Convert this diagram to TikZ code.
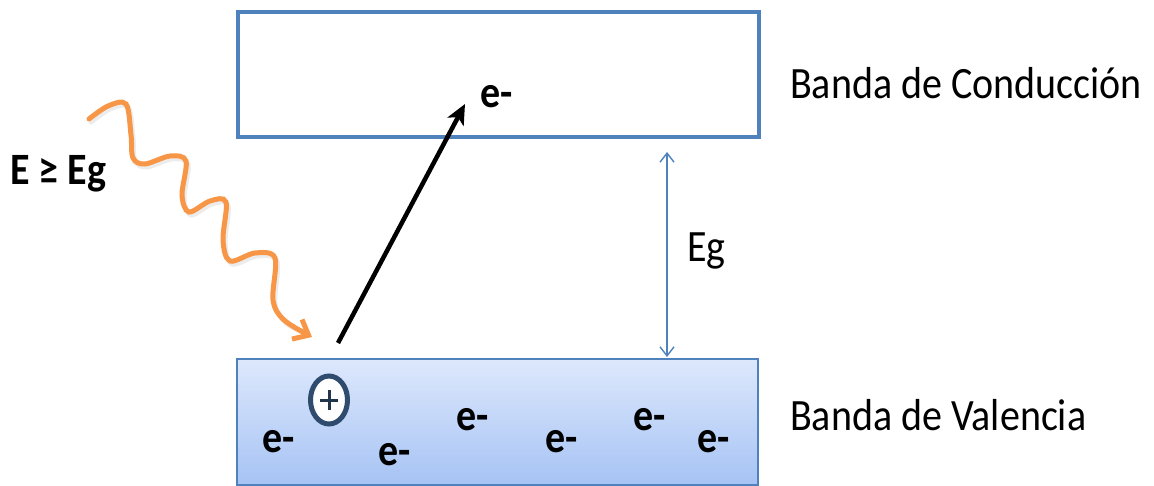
\documentclass[tikz,border=0pt]{standalone}
\usepackage{fontspec}
\setmainfont{Carlito}
\usetikzlibrary{arrows.meta,shapes.geometric}
\definecolor{bandblue}{HTML}{4F81BD}
\definecolor{photon}{HTML}{F79646}
\definecolor{holeblue}{HTML}{2F4B6E}
\definecolor{vbtop}{HTML}{DDE8FC}
\definecolor{vbbot}{HTML}{A6C3F4}
\newcommand\vst[1]{\scalebox{1}[1.12]{#1}}
\tikzset{
  lbl/.style={anchor=base west,inner sep=0pt,font=\fontsize{40}{48}\selectfont},
  elec/.style={anchor=base west,inner sep=0pt,font=\fontsize{40}{48}\selectfont\bfseries},
}
\begin{document}
\begin{tikzpicture}[x=1pt,y=-1pt]
\useasboundingbox (0,0) rectangle (1154,486);
% bands
\node[draw=bandblue,line width=4pt,minimum width=521pt,minimum height=125pt,inner sep=0pt,anchor=north west] (cb) at (236,10) {};
\node[draw=bandblue,line width=2.2pt,minimum width=521pt,minimum height=126pt,inner sep=0pt,anchor=north west,top color=vbtop,bottom color=vbbot] (vb) at (236,358) {};
% labels
\node[lbl] (lcb) at (790,99) {\vst{Banda de Conducción}};
\node[lbl] (lvb) at (790,430) {\vst{Banda de Valencia}};
\node[elec] (eeg) at (10,185) {\vst{E ≥ Eg}};
% Eg gap arrow
\coordinate (gt) at (667,152);
\coordinate (gb) at (667,357);
\draw[bandblue,line width=1.4pt,{Straight Barb[length=9pt,width=14pt]}-{Straight Barb[length=9pt,width=14pt]}] (gt) -- (gb);
\node[lbl] (leg) at (687,262) {\vst{Eg}};
% electrons
\node[elec] (etop) at (480,108) {\vst{e-}};
\node[elec] (e1) at (262,452) {\vst{e-}};
\node[elec] (e2) at (378,465) {\vst{e-}};
\node[elec] (e3) at (456,430) {\vst{e-}};
\node[elec] (e4) at (545,452) {\vst{e-}};
\node[elec] (e5) at (633,430) {\vst{e-}};
\node[elec] (e6) at (697,452) {\vst{e-}};
% hole
\node[draw=holeblue,line width=5pt,fill=white,ellipse,minimum width=37pt,minimum height=48pt,inner sep=0pt] (hole) at (329,400) {};
\draw[holeblue!70!black,line width=3pt] ([xshift=-9pt]hole.center) -- ([xshift=9pt]hole.center);
\draw[holeblue!70!black,line width=3pt] ([yshift=-10pt]hole.center) -- ([yshift=10pt]hole.center);
% excitation arrow
\coordinate (atail) at (338,343);
\coordinate (ahead) at (465,104);
\draw[black,line width=4.5pt,-{Stealth[length=20pt,width=18pt,inset=5pt]}] (atail) -- (ahead);
% photon
\coordinate (pstart) at (89,119);
\coordinate (pend) at (312,337);
\draw[black!30,line width=5pt,opacity=0.25,line cap=round]
  plot[smooth,tension=0.55] coordinates {(91,122) (110,109) (128,107) (133,138) (135,161) (147,167) (172,159) (188,164) (184,198) (191,215) (212,204) (228,205) (225,243) (232,264) (257,256) (277,261) (275,303) (286,323) (302,331)};
\draw[photon,line width=5pt,line cap=round,-{Straight Barb[length=13pt,width=22pt]}]
  plot[smooth,tension=0.55] coordinates {(pstart) (108,106) (126,104) (131,135) (133,158) (145,164) (170,156) (186,161) (182,195) (189,212) (210,201) (226,202) (223,240) (230,261) (255,253) (275,258) (273,300) (284,320) (pend)};
\end{tikzpicture}
\end{document}
